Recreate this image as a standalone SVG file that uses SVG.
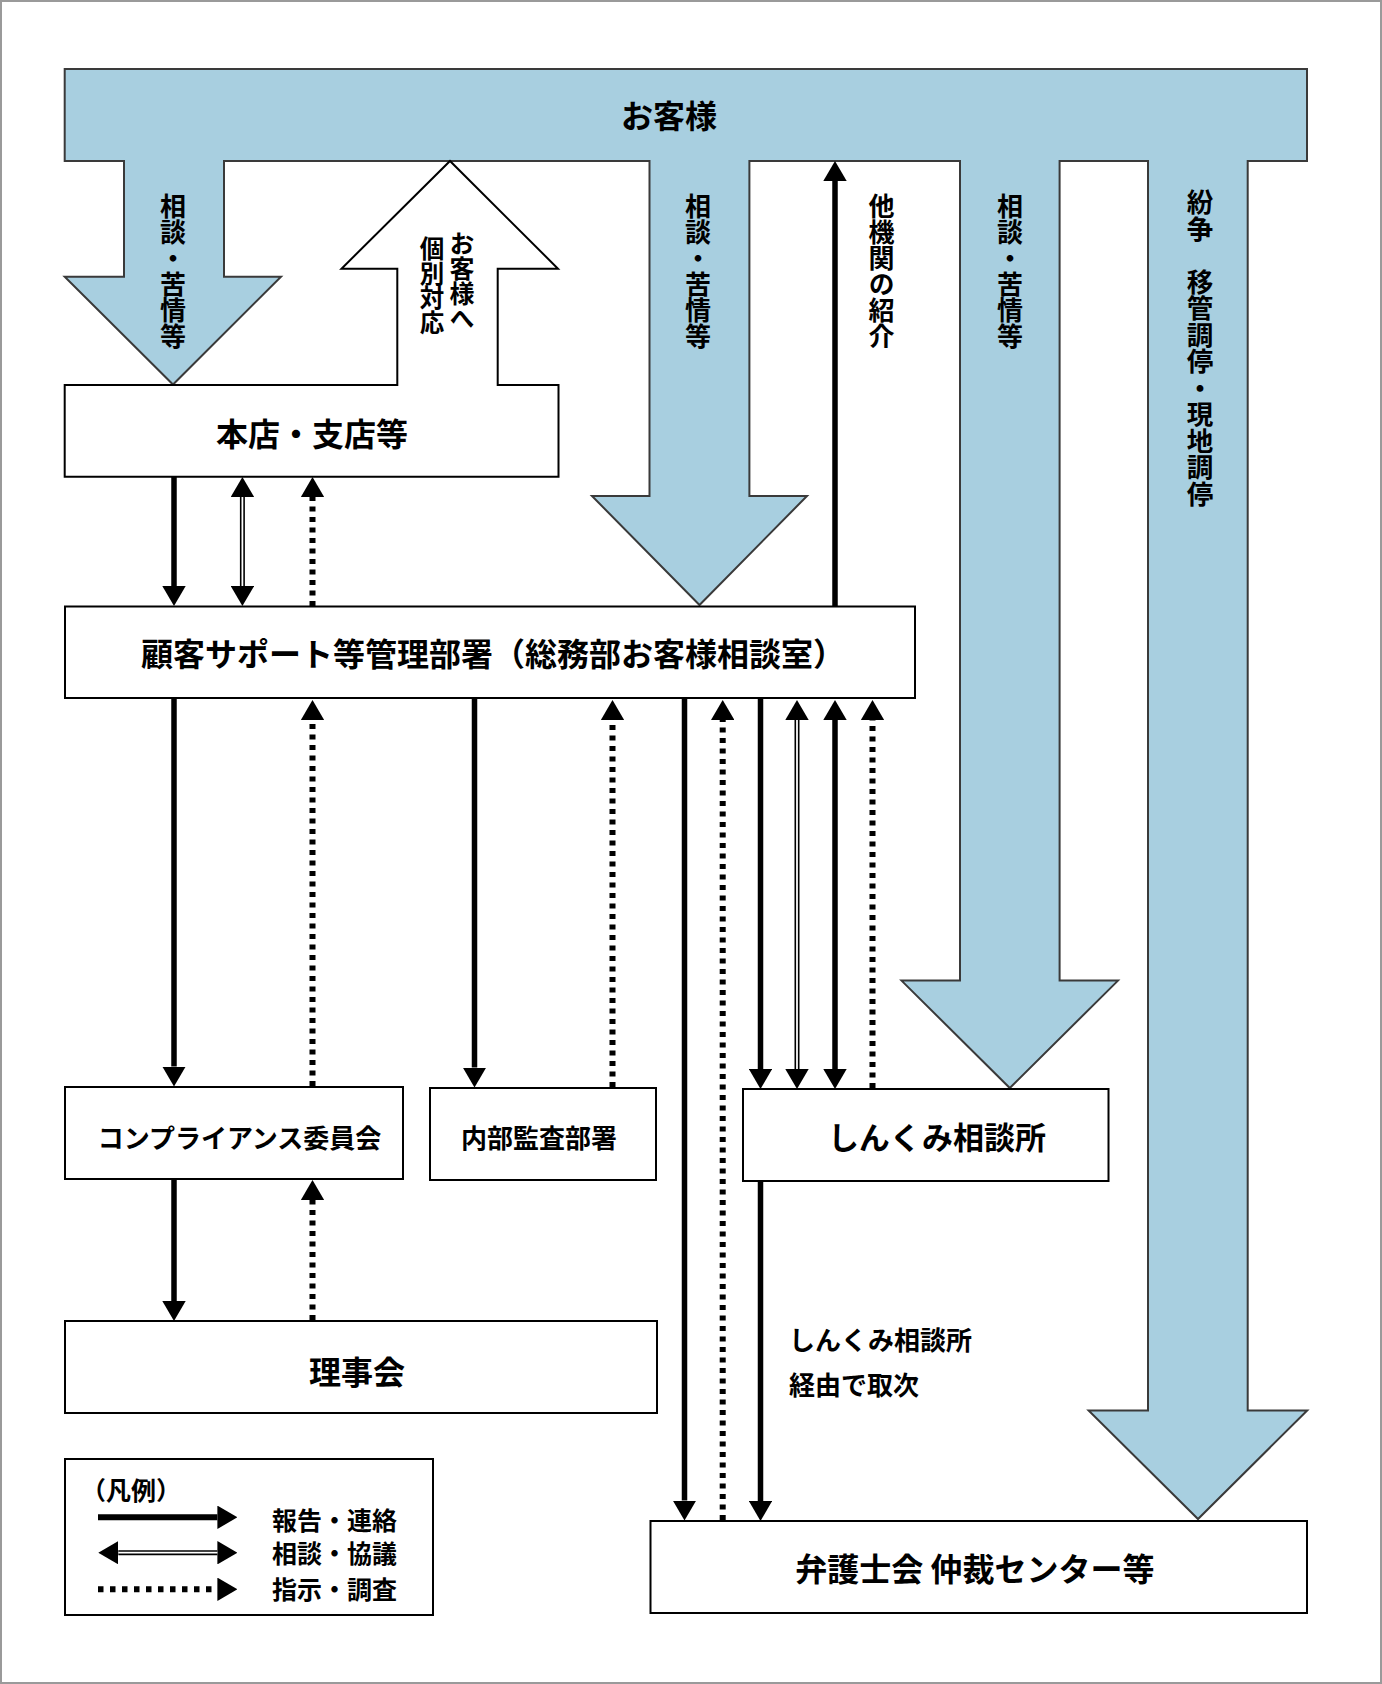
<svg xmlns="http://www.w3.org/2000/svg" width="1382" height="1684" viewBox="0 0 1382 1684">
<style>
text{font-family:"Noto Sans CJK JP","Noto Sans CJK SC",sans-serif;font-weight:bold;fill:#000}
.big{font-size:32px}
.mid{font-size:26px}
.leg{font-size:25px}
.vt{writing-mode:vertical-rl;font-size:26px}
.box{fill:#fff;stroke:#000;stroke-width:2}
.blue{fill:#a8cfe0;stroke:#3a3a3a;stroke-width:2;stroke-linejoin:miter}
.solid{stroke:#000;stroke-width:5.5;fill:none}
.dbl{stroke:#000;stroke-width:5;fill:none}
.dblin{stroke:#fff;stroke-width:1.8;fill:none}
.dot{stroke:#000;stroke-width:6;fill:none;stroke-dasharray:5 5.5}
</style>
<defs>
<marker id="ah" markerUnits="userSpaceOnUse" markerWidth="20" markerHeight="23.4" viewBox="0 0 20 23.4" refX="0" refY="11.7" orient="auto-start-reverse"><path d="M0,0 L20,11.7 L0,23.4 Z" fill="#000"/></marker>
</defs>
<rect x="1" y="1" width="1380" height="1682" fill="#fff" stroke="#9a9a9a" stroke-width="2"/>

<g id="customer">
<path class="blue" d="M64.7,69 L1307,69 L1307,161 L1247.7,161 L1247.7,1410.5 L1307.2,1410.5 L1198,1519 L1088.6,1410.5 L1148,1410.5 L1148,161 L1059.6,161 L1059.6,980.6 L1118,980.6 L1009.8,1088 L901.5,980.6 L960,980.6 L960,161 L749.4,161 L749.4,496 L807,496 L699.5,605 L592,496 L649.5,496 L649.5,161 L224,161 L224,276.7 L281,276.7 L173,384.5 L64.7,276.7 L124,276.7 L124,161 L64.7,161 Z"/>
<text class="big" x="669" y="128" text-anchor="middle">お客様</text>
<text class="vt" x="173" y="193">相談・苦情等</text>
<text class="vt" x="698" y="193">相談・苦情等</text>
<text class="vt" x="1010" y="193">相談・苦情等</text>
<text class="vt" x="1200" y="188.7" style="font-size:26.5px">紛争　移管調停・現地調停</text>
</g>

<g id="branch">
<rect x="64.7" y="385" width="493.8" height="91.7" fill="#fff"/>
<path d="M397.3,385 L64.7,385 L64.7,476.7 L558.5,476.7 L558.5,385 L497.7,385" fill="none" stroke="#000" stroke-width="2"/>
<text class="big" x="312" y="446" text-anchor="middle">本店・支店等</text>
</g>

<g id="individual-response">
<polygon points="397.3,387 397.3,268.7 341.5,268.7 450,161 558,268.7 497.7,268.7 497.7,387" fill="#fff"/>
<polyline points="397.3,386 397.3,268.7 341.5,268.7 450,161 558,268.7 497.7,268.7 497.7,386" fill="none" stroke="#000" stroke-width="2"/>
<text class="vt" x="462" y="230.5" style="font-size:25px">お客様へ</text>
<text class="vt" x="432" y="236.5" style="font-size:24.5px">個別対応</text>
</g>

<g id="support">
<rect class="box" x="65" y="606.5" width="850" height="91.5"/>
<text class="big" x="493" y="666" text-anchor="middle">顧客サポート等管理部署（総務部お客様相談室）</text>
</g>

<g id="compliance">
<rect class="box" x="65" y="1087" width="338" height="92"/>
<text class="mid" x="239.5" y="1148" text-anchor="middle">コンプライアンス委員会</text>
</g>

<g id="audit">
<rect class="box" x="430" y="1088" width="226" height="92"/>
<text class="mid" x="539" y="1148" text-anchor="middle">内部監査部署</text>
</g>

<g id="board">
<rect class="box" x="65" y="1321" width="592" height="92"/>
<text class="big" x="357" y="1384" text-anchor="middle">理事会</text>
</g>

<g id="shinkumi">
<rect class="box" x="743" y="1089" width="365.5" height="92"/>
<text class="big" x="937" y="1148.5" text-anchor="middle" style="font-size:31px">しんくみ相談所</text>
</g>

<g id="bar">
<rect class="box" x="650.5" y="1521" width="656.5" height="92"/>
<text class="big" x="975" y="1580.5" text-anchor="middle">弁護士会 仲裁センター等</text>
</g>

<g id="connectors">
<line class="solid" x1="174" y1="477" x2="174" y2="586" marker-end="url(#ah)"/>
<line class="dbl" x1="242.4" y1="497" x2="242.4" y2="586" marker-start="url(#ah)" marker-end="url(#ah)"/>
<line class="dblin" x1="242.4" y1="497" x2="242.4" y2="586"/>
<line class="dot" x1="312.5" y1="606" x2="312.5" y2="497" marker-end="url(#ah)"/>

<line class="solid" x1="174" y1="699" x2="174" y2="1066.5" marker-end="url(#ah)"/>
<line class="dot" x1="312.5" y1="1086" x2="312.5" y2="720" marker-end="url(#ah)"/>
<line class="solid" x1="474.5" y1="699" x2="474.5" y2="1067.5" marker-end="url(#ah)"/>
<line class="dot" x1="612.5" y1="1087" x2="612.5" y2="720" marker-end="url(#ah)"/>
<line class="solid" x1="684.5" y1="699" x2="684.5" y2="1500.5" marker-end="url(#ah)"/>
<line class="dot" x1="722.7" y1="1520" x2="722.7" y2="720" marker-end="url(#ah)"/>
<line class="solid" x1="760.5" y1="699" x2="760.5" y2="1069" marker-end="url(#ah)"/>
<line class="dbl" x1="797" y1="720" x2="797" y2="1069" marker-start="url(#ah)" marker-end="url(#ah)"/>
<line class="dblin" x1="797" y1="720" x2="797" y2="1069"/>
<line class="solid" x1="835" y1="720" x2="835" y2="1069" marker-start="url(#ah)" marker-end="url(#ah)"/>
<line class="dot" x1="872.5" y1="1088" x2="872.5" y2="720" marker-end="url(#ah)"/>
<line class="solid" x1="835" y1="606.5" x2="835" y2="181" marker-end="url(#ah)"/>
<text class="vt" x="881.5" y="193">他機関の紹介</text>

<line class="solid" x1="174" y1="1179" x2="174" y2="1301" marker-end="url(#ah)"/>
<line class="dot" x1="312.5" y1="1320" x2="312.5" y2="1200" marker-end="url(#ah)"/>
<line class="solid" x1="760.5" y1="1181" x2="760.5" y2="1501" marker-end="url(#ah)"/>
<text class="mid" x="789" y="1350">しんくみ相談所</text>
<text class="mid" x="789" y="1395">経由で取次</text>
</g>

<g id="legend">
<rect class="box" x="65" y="1459" width="368" height="156"/>
<text class="leg" x="81" y="1499.5">（凡例）</text>
<line stroke="#000" stroke-width="6" x1="98" y1="1517.3" x2="217.4" y2="1517.3" marker-end="url(#ah)"/>
<line class="dbl" x1="118.3" y1="1552.7" x2="217.4" y2="1552.7" marker-start="url(#ah)" marker-end="url(#ah)"/>
<line class="dblin" x1="118.3" y1="1552.7" x2="217.4" y2="1552.7"/>
<line class="dot" x1="98" y1="1589.3" x2="217.4" y2="1589.3" style="stroke-dasharray:5.5 6.5" marker-end="url(#ah)"/>
<text class="leg" x="272" y="1529.5">報告・連絡</text>
<text class="leg" x="272" y="1562.5">相談・協議</text>
<text class="leg" x="272" y="1598.5">指示・調査</text>
</g>
</svg>
